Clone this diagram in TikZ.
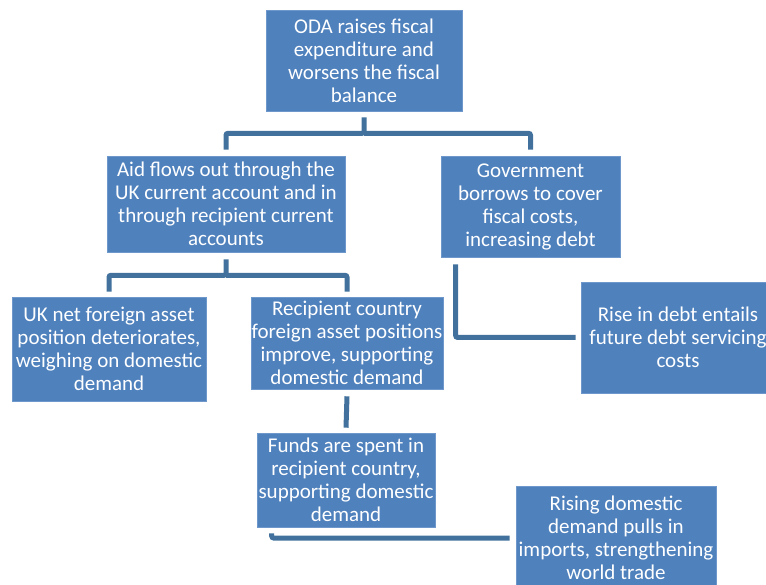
\documentclass[tikz,border=0pt]{standalone}
\usepackage{fontspec}
\setmainfont{Carlito}
\usetikzlibrary{positioning, calc}
\definecolor{cfill}{HTML}{4F81BD}
\definecolor{cedge}{HTML}{6E97CC}
\definecolor{clink}{HTML}{41719C}
\tikzset{
  every picture/.style={x=1pt, y=-1pt},
  box/.style={fill=cfill, draw=cedge, line width=0.6pt, text=white, align=center, inner sep=0pt,
    font=\fontsize{21}{23}\selectfont},
  link/.style={draw=clink, line width=5pt, rounded corners=2pt},
}
\begin{document}
\begin{tikzpicture}
  \useasboundingbox (0,0) rectangle (766,585);
  \clip (0,0) rectangle (766,585);
  % top level
  \node[box, minimum width=196pt, minimum height=101pt] (oda) at (364,60.5)
    {ODA raises fiscal\\ expenditure and\\ worsens the fiscal\\ balance};
  % second level
  \node[box, minimum width=238pt, minimum height=96pt] (aid) at (226,204)
    {Aid flows out through the\\ UK current account and in\\ through recipient current\\ accounts};
  \node[box, minimum width=179pt, minimum height=101pt] (gov) at (530.5,206.5)
    {Government\\ borrows to cover\\ fiscal costs,\\ increasing debt};
  % third level
  \node[box, minimum width=194pt, minimum height=104pt] (ukn) at (109,349)
    {UK net foreign asset\\ position deteriorates,\\ weighing on domestic\\ demand};
  \node[box, minimum width=192pt, minimum height=92pt] (rec) at (347,343)
    {Recipient country\\ foreign asset positions\\ improve, supporting\\ domestic demand};
  \node[box, minimum width=194pt, minimum height=111pt] (debt) at (678,337.5)
    {Rise in debt entails\\ future debt servicing\\ costs};
  % bottom
  \node[box, minimum width=178pt, minimum height=94pt] (funds) at (346,480)
    {Funds are spent in\\ recipient country,\\ supporting domestic\\ demand};
  \node[box, minimum width=200pt, minimum height=104pt] (rising) at (616,538)
    {Rising domestic\\ demand pulls in\\ imports, strengthening\\ world trade};
  % connectors
  \draw[link] ($(oda.south)+(0,6)$) -- ($(oda.south)+(0,22)$) -| ($(aid.north)+(0,-6)$);
  \draw[link] ($(oda.south)+(0,22)$) -| ($(gov.north)+(0,-6)$);
  \draw[link] ($(aid.south)+(0,7)$) -- ($(aid.south)+(0,23)$) -| ($(ukn.north)+(0,-5)$);
  \draw[link] ($(aid.south)+(0,23)$) -| ($(rec.north)+(0,-5)$);
  \draw[link] ($(gov.south west)+(15,7)$) |- ($(debt.west)+(-5,0)$);
  \draw[link] ($(rec.south)+(0,7)$) -- ($(funds.north)+(0,-5)$);
  \draw[link] ($(funds.south west)+(15,6)$) |- ($(rising.west)+(-6,0)$);
\end{tikzpicture}
\end{document}
